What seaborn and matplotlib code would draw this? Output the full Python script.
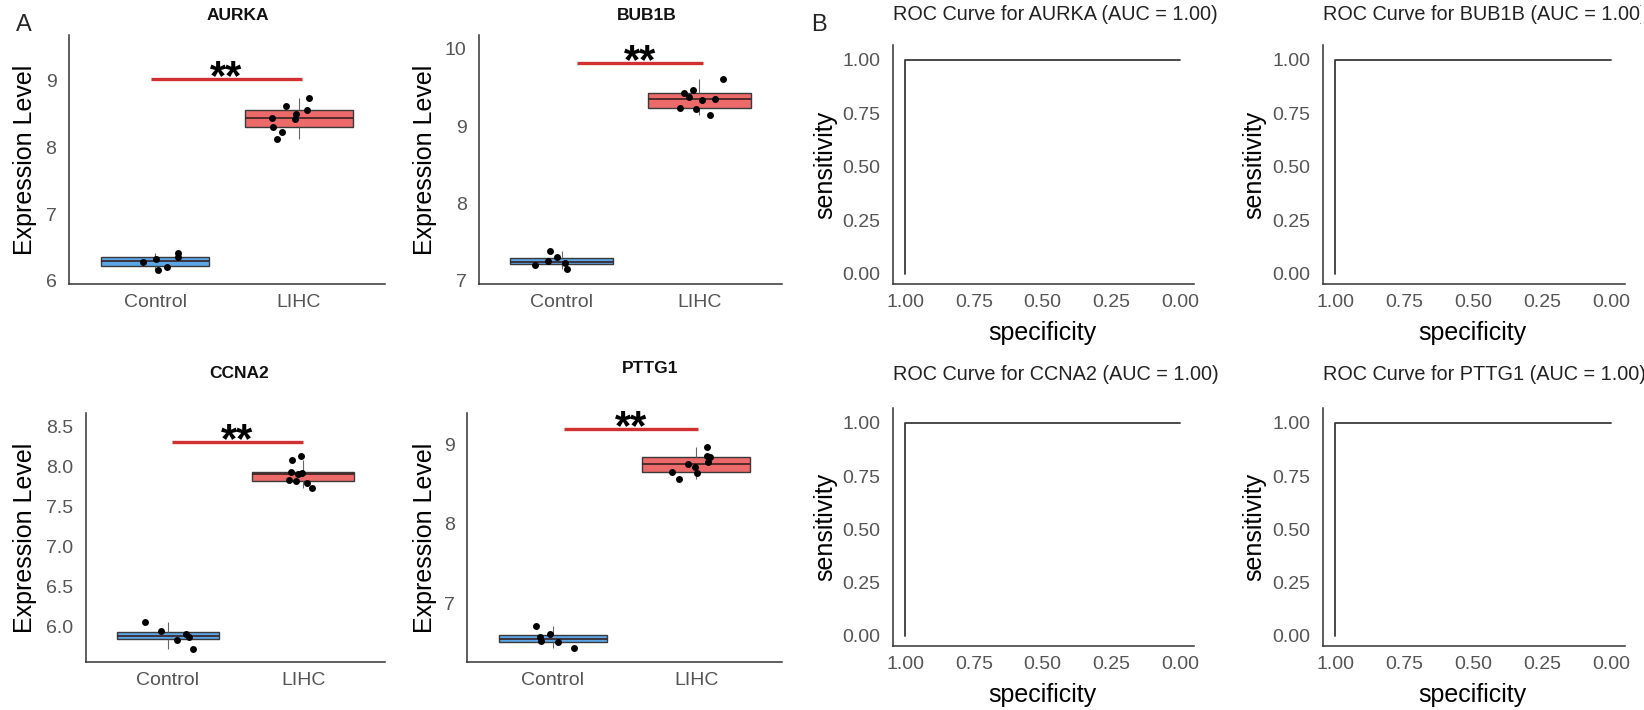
import numpy as np
import pandas as pd
import matplotlib
matplotlib.use("Agg")
import matplotlib.pyplot as plt
from matplotlib.transforms import Bbox, TransformedBbox
import seaborn as sns

# ---- expression values per gene ----
genes = ["AURKA", "BUB1B", "CCNA2", "PTTG1"]
groups = ["Control", "LIHC"]

aurka_control = [6.16, 6.21, 6.28, 6.33, 6.36, 6.42]
aurka_lihc = [8.13, 8.24, 8.31, 8.43, 8.45, 8.50, 8.56, 8.63, 8.75]
bub1b_control = [7.16, 7.21, 7.23, 7.26, 7.31, 7.39]
bub1b_lihc = [9.14, 9.22, 9.23, 9.34, 9.35, 9.38, 9.43, 9.47, 9.61]
ccna2_control = [5.72, 5.84, 5.87, 5.91, 5.95, 6.06]
ccna2_lihc = [7.74, 7.80, 7.83, 7.84, 7.91, 7.92, 7.94, 8.09, 8.14]
pttg1_control = [6.43, 6.51, 6.53, 6.57, 6.61, 6.71]
pttg1_lihc = [8.56, 8.63, 8.65, 8.71, 8.75, 8.77, 8.84, 8.85, 8.96]

significance = ["**", "**", "**", "**"]
bracket_y = [9.03, 9.815, 8.31, 9.19]

# ---- ROC curves (identical perfect separation for each gene) ----
roc_specificity = [1.0, 1.0, 0.0]
roc_sensitivity = [0.0, 1.0, 1.0]
auc_values = [1.00, 1.00, 1.00, 1.00]

expr = {
    "AURKA": (aurka_control, aurka_lihc),
    "BUB1B": (bub1b_control, bub1b_lihc),
    "CCNA2": (ccna2_control, ccna2_lihc),
    "PTTG1": (pttg1_control, pttg1_lihc),
}

# ---- styling ----
sns.set_theme(style="white")
plt.rcParams["font.family"] = ["Liberation Sans", "DejaVu Sans"]

W, H = 1644, 710
fig = plt.figure(figsize=(W / 100, H / 100), dpi=100)


def px_axes(x0, y0, x1, y1):
    return fig.add_axes([x0 / W, 1 - y1 / H, (x1 - x0) / W, (y1 - y0) / H])


box_rects = [(69, 35, 385, 284), (479, 35, 782, 284),
             (86, 413, 385, 662), (467, 413, 782, 662)]
box_ylims = [(5.955, 9.69), (6.96, 10.18), (5.56, 8.675), (6.26, 9.39)]
box_yticks = [[6, 7, 8, 9], [7, 8, 9, 10],
              [6.0, 6.5, 7.0, 7.5, 8.0, 8.5], [7, 8, 9]]
box_ytick_fmt = ["{:.0f}", "{:.0f}", "{:.1f}", "{:.0f}"]
ylabel_x = [-0.139, -0.178, -0.204, -0.133]
title_x = [0.535, 0.554, 0.512, 0.581]
title_y = [1.044, 1.044, 1.124, 1.145]
bracket_span = [(-0.03, 1.02), (0.11, 1.03), (0.03, 1.0), (0.08, 1.01)]

palette = {"Control": "#5AA6E6", "LIHC": "#EC6A6A"}
tick_grey = "#555555"
spine_col = "#333333"

np.random.seed(3)

for i, gene in enumerate(genes):
    ax = px_axes(*box_rects[i])
    ctrl, lihc = expr[gene]
    df = pd.DataFrame({
        "group": ["Control"] * len(ctrl) + ["LIHC"] * len(lihc),
        "value": list(ctrl) + list(lihc),
    })
    sns.boxplot(data=df, x="group", y="value", hue="group", order=groups,
                palette=palette, saturation=1, width=0.75, showfliers=False,
                showcaps=False, linewidth=1.0, linecolor="#3a3a3a",
                whiskerprops=dict(color="#666666", linewidth=0.8),
                medianprops=dict(color="#3a2020", linewidth=1.2),
                legend=False, ax=ax)
    sns.stripplot(data=df, x="group", y="value", order=groups, color="black",
                  size=5, jitter=0.2, ax=ax, zorder=5)

    ax.set_xlim(-0.6, 1.6)
    ax.set_ylim(*box_ylims[i])
    ax.set_yticks(box_yticks[i])
    ax.set_yticklabels([box_ytick_fmt[i].format(v) for v in box_yticks[i]])
    ax.set_xlabel("")
    ax.set_ylabel("Expression Level", fontsize=18, color="black")
    ax.yaxis.label.set_va("center")
    ax.yaxis.set_label_coords(ylabel_x[i], 0.5)
    ax.tick_params(axis="both", length=0, labelsize=14, labelcolor=tick_grey)
    ax.tick_params(axis="y", pad=9)
    ax.tick_params(axis="x", pad=7)
    for side in ["top", "right"]:
        ax.spines[side].set_visible(False)
    for side in ["left", "bottom"]:
        ax.spines[side].set_color(spine_col)
        ax.spines[side].set_linewidth(1.1)
    ax.set_title(gene, fontsize=12.5, fontweight="bold", x=title_x[i],
                 y=title_y[i], va="center", color="#111111")

    x0, x1 = bracket_span[i]
    ax.plot([x0, x1], [bracket_y[i], bracket_y[i]], color="#D0302F",
            linewidth=2.4, solid_capstyle="butt", zorder=6)
    ax.annotate(significance[i], xy=((x0 + x1) / 2, bracket_y[i]),
                xytext=(0, -7), textcoords="offset points",
                ha="center", va="baseline", fontsize=30, fontweight="bold",
                color="black")

roc_rects = [(893, 45, 1194, 284), (1323, 45, 1625, 284),
             (893, 408, 1194, 646), (1323, 408, 1625, 646)]
roc_ticks = [0.0, 0.25, 0.5, 0.75, 1.0]
roc_df = pd.DataFrame({"specificity": roc_specificity,
                       "sensitivity": roc_sensitivity})

for i, gene in enumerate(genes):
    ax = px_axes(*roc_rects[i])
    sns.lineplot(data=roc_df, x="specificity", y="sensitivity", sort=False,
                 estimator=None, color="#3a3a3a", linewidth=1.3, ax=ax)
    ax.set_xlim(1.044, -0.05)
    ax.set_ylim(-0.047, 1.07)
    ax.set_xticks(roc_ticks)
    ax.set_yticks(roc_ticks)
    ax.set_xticklabels([f"{v:.2f}" for v in roc_ticks])
    ax.set_yticklabels([f"{v:.2f}" for v in roc_ticks])
    ax.set_xlabel("specificity", fontsize=18, color="black")
    ax.set_ylabel("sensitivity", fontsize=18, color="black")
    ax.xaxis.label.set_va("center")
    ax.yaxis.label.set_va("center")
    ax.xaxis.set_label_coords(0.495, -0.205)
    ax.yaxis.set_label_coords(-0.226, 0.5)
    ax.tick_params(axis="both", length=0, labelsize=14, labelcolor=tick_grey)
    ax.tick_params(axis="y", pad=9)
    ax.tick_params(axis="x", pad=7)
    for side in ["top", "right"]:
        ax.spines[side].set_visible(False)
    for side in ["left", "bottom"]:
        ax.spines[side].set_color(spine_col)
        ax.spines[side].set_linewidth(1.1)
    ty = 1.092 if i < 2 else 1.105
    t = ax.set_title(f"ROC Curve for {gene} (AUC = {auc_values[i]:.2f})",
                     fontsize=14.3, loc="left", x=0.0, y=ty, va="center",
                     color="#222222")
    if i == 1:
        # this panel's title runs into the figure edge and is cut there
        t.set_clip_on(True)
        t.set_clip_box(TransformedBbox(Bbox([[0, 0], [1641 / W, 1]]),
                                       fig.transFigure))

fig.text(24 / W, 1 - 25 / H, "A", fontsize=17, ha="center", va="center")
fig.text(819 / W, 1 - 25 / H, "B", fontsize=17, ha="center", va="center")

fig.savefig("out.png", dpi=100, facecolor="white")
